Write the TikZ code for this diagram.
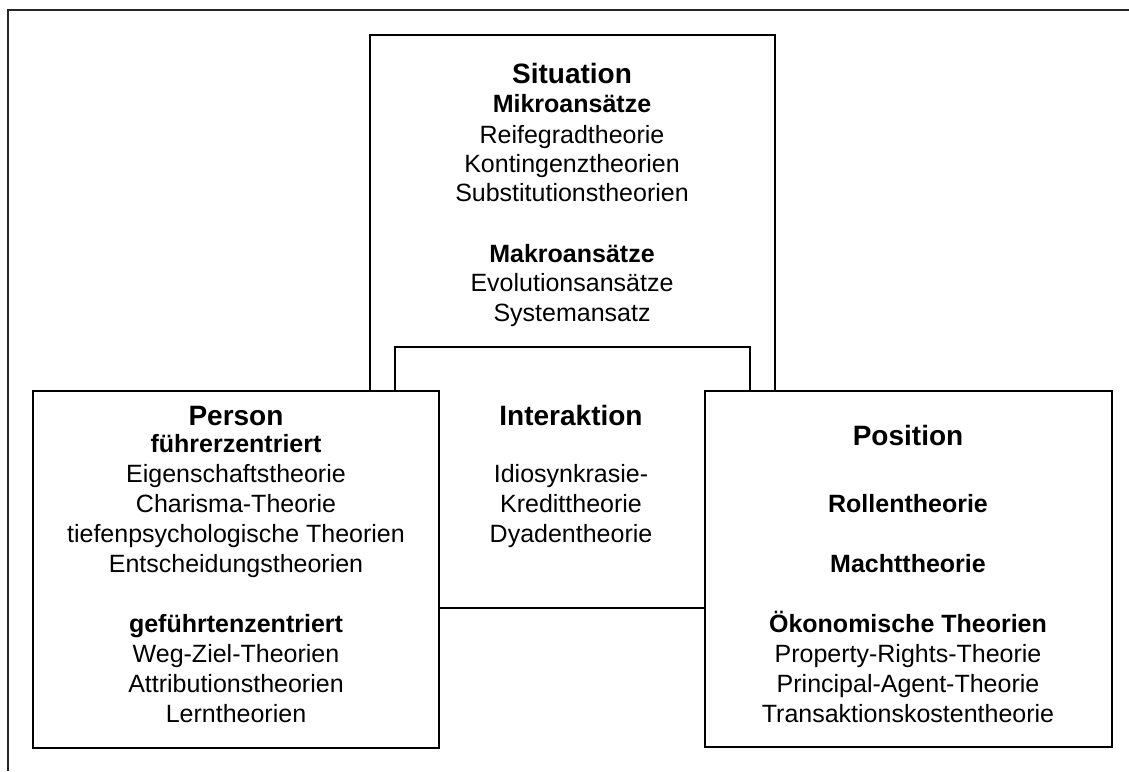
\documentclass[tikz,border=0pt]{standalone}
\usepackage{fontspec}
\setmainfont{Liberation Sans}
\tikzset{
  box/.style={draw=black, fill=white, line width=1.5pt},
  frame/.style={draw=black!85, line width=1.8pt},
  ttl/.style={anchor=base, font=\bfseries\fontsize{28}{30}\selectfont, inner sep=0pt},
  sub/.style={anchor=base, font=\bfseries\fontsize{25}{30}\selectfont, inner sep=0pt},
  txt/.style={anchor=base, font=\fontsize{25}{30}\selectfont, inner sep=0pt},
}
\begin{document}
\begin{tikzpicture}[x=1pt, y=-1pt]
\useasboundingbox (0,0) rectangle (1129,771);
% outer frame (cut off at right and bottom)
\draw[frame] (8,771) -- (8,10) -- (1129,10);
% boxes
\draw[box] (370,35) rectangle (775,520);
\draw[box] (395,347) rectangle (750,608);
\draw[box] (33,391) rectangle (439,748);
\draw[box] (705,391) rectangle (1112,747);
% Situation
\foreach \st/\y/\t [count=\i] in {ttl/83/Situation, sub/112/Mikroansätze, txt/143/Reifegradtheorie, txt/172/Kontingenztheorien, txt/201/Substitutionstheorien, sub/262/Makroansätze, txt/291/Evolutionsansätze, txt/321/Systemansatz}
  \node[\st] (sit\i) at (572,\y) {\t};
% Interaktion
\foreach \st/\y/\t [count=\i] in {ttl/425/Interaktion, txt/482/Idiosynkrasie-, txt/512/Kredittheorie, txt/542/Dyadentheorie}
  \node[\st] (int\i) at (571,\y) {\t};
% Person
\foreach \st/\y/\t [count=\i] in {ttl/425/Person, sub/452/führerzentriert, txt/482/Eigenschaftstheorie, txt/512/Charisma-Theorie, txt/542/tiefenpsychologische Theorien, txt/572/Entscheidungstheorien, sub/632/geführtenzentriert, txt/662/Weg-Ziel-Theorien, txt/692/Attributionstheorien, txt/722/Lerntheorien}
  \node[\st] (per\i) at (236,\y) {\t};
% Position
\foreach \st/\y/\t [count=\i] in {ttl/445/Position, sub/512/Rollentheorie, sub/572/Machttheorie, sub/632/Ökonomische Theorien, txt/662/Property-Rights-Theorie, txt/692/Principal-Agent-Theorie, txt/722/Transaktionskostentheorie}
  \node[\st] (pos\i) at (908,\y) {\t};
\end{tikzpicture}
\end{document}
